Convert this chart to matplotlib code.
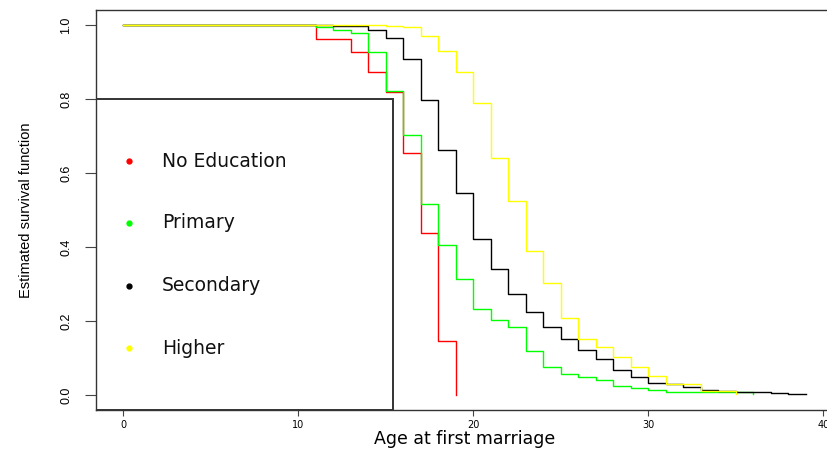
import matplotlib
matplotlib.use("Agg")
import matplotlib.pyplot as plt
from matplotlib.patches import Rectangle

# Kaplan-Meier estimates (step changes at integer ages)
noedu_t = [0, 11, 13, 14, 15, 16, 17, 18, 19]
noedu_s = [1.0, 0.963, 0.927, 0.873, 0.819, 0.655, 0.438, 0.146, 0.0]

prim_t = [0, 11, 12, 13, 14, 15, 16, 17, 18, 19, 20, 21, 22, 23, 24, 25, 26,
          27, 28, 29, 30, 31, 36]
prim_s = [1.0, 0.994, 0.985, 0.977, 0.926, 0.822, 0.703, 0.516, 0.406, 0.315,
          0.234, 0.203, 0.183, 0.118, 0.077, 0.058, 0.048, 0.042, 0.024, 0.020,
          0.015, 0.009, 0.003]

sec_t = [0, 12, 14, 15, 16, 17, 18, 19, 20, 21, 22, 23, 24, 25, 26, 27, 28,
         29, 30, 31, 32, 33, 34, 35, 37, 38, 39]
sec_s = [1.0, 0.997, 0.985, 0.964, 0.907, 0.797, 0.662, 0.546, 0.422, 0.342,
         0.273, 0.224, 0.185, 0.151, 0.121, 0.098, 0.067, 0.050, 0.032, 0.029,
         0.021, 0.014, 0.012, 0.008, 0.005, 0.002, 0.002]

high_t = [0, 12, 15, 16, 17, 18, 19, 20, 21, 22, 23, 24, 25, 26, 27, 28, 29,
          30, 31, 33, 35]
high_s = [1.0, 0.999, 0.997, 0.994, 0.969, 0.929, 0.872, 0.788, 0.641, 0.523,
          0.388, 0.302, 0.209, 0.153, 0.131, 0.102, 0.077, 0.052, 0.029, 0.012,
          0.004]

groups = ["No Education", "Primary", "Secondary", "Higher"]
colors = ["#ff0000", "#00ff00", "#000000", "#ffff00"]
legend_y = [0.632, 0.465, 0.295, 0.127]

narrow = ["Liberation Sans", "DejaVu Sans"]

fig = plt.figure(figsize=(8.28, 4.49), dpi=100)
ax = fig.add_axes([96 / 828, 39 / 449, 737 / 828, 400 / 449])

curves = [(noedu_t, noedu_s), (prim_t, prim_s), (sec_t, sec_s), (high_t, high_s)]
for (t, s), c in zip(curves, colors):
    ax.step(t, s, where="post", color=c, lw=1.0)

# legend box and entries (R style)
ax.add_patch(Rectangle((-1.56, -0.04), 16.99, 0.84, fill=False,
                       edgecolor="#333333", lw=1.4, zorder=3))
for g, c, yy in zip(groups, colors, legend_y):
    ax.plot(0.3, yy, "o", color=c, ms=3.5, mec=c)
    ax.text(2.2, yy, g, fontsize=13.5, va="center", ha="left", color="#111111")

ax.set_xlim(-1.56, 40.56)
ax.set_ylim(-0.04, 1.04)
ax.set_xticks([0, 10, 20, 30, 40])
ax.set_yticks([0.0, 0.2, 0.4, 0.6, 0.8, 1.0])
ax.set_yticklabels(["0.0", "0.2", "0.4", "0.6", "0.8", "1.0"],
                   rotation=90, va="center", family=narrow, fontsize=9)
ax.tick_params(axis="y", length=8, width=0.8, color="#444444", pad=9)
ax.tick_params(axis="x", length=4, width=0.8, color="#444444", pad=3,
               labelsize=7)
for sp in ax.spines.values():
    sp.set_color("#333333")
    sp.set_linewidth(1.0)

ax.set_xlabel("Age at first marriage", fontsize=12.5, labelpad=0)
ax.set_ylabel("Estimated survival function", fontsize=10.5, family=narrow,
              labelpad=20)

fig.savefig("out.png", dpi=100)
